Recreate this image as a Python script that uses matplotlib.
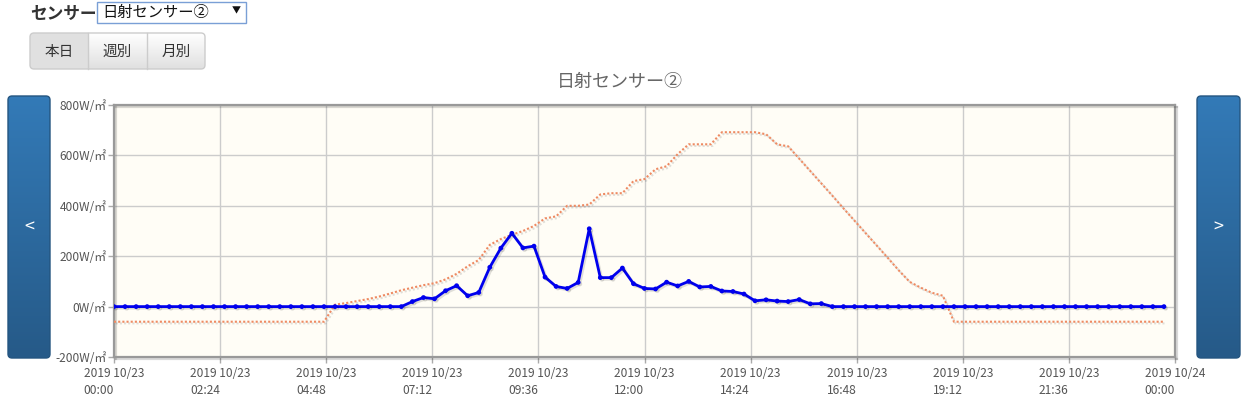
# 日射センサー② daily chart (jqPlot style page), 15 minute samples

import matplotlib
matplotlib.use('Agg')
import matplotlib.pyplot as plt
import matplotlib.patheffects as pe
from matplotlib.patches import FancyBboxPatch, Rectangle
from matplotlib.colors import LinearSegmentedColormap
import numpy as np
import pandas as pd

plt.rcParams['font.family'] = ['Noto Sans CJK JP', 'DejaVu Sans']

# Data
times = pd.date_range('2019-10-23 00:00', periods=96, freq='15min')

# measured irradiance (blue), W/m2
measured = ([0] * 27 +
            [20, 36, 31, 63, 83, 43, 56, 156, 232, 291, 233, 240, 117, 80, 72, 96,
             309, 115, 115, 153, 91, 72, 70, 97, 82, 100, 78, 80, 62, 60, 50, 23,
             27, 22, 20, 28, 11, 12] +
            [0] * 31)

# reference curve (orange dotted), W/m2
reference = ([-60] * 20 +
             [8, 14, 22, 30, 40, 52, 65, 75, 85, 93, 108, 130, 160, 185, 245, 268,
              285, 300, 320, 350, 358, 400, 400, 405, 445, 450, 450, 498, 506, 545,
              557, 605, 644, 644, 644, 692, 692, 692, 692, 684, 644, 636, 587, 538,
              489, 440, 390, 341, 292, 243, 194, 144, 98, 75, 55, 43] +
             [-60] * 20)

x_ticks = pd.date_range('2019-10-23 00:00', periods=11, freq='144min')
y_ticks = [-200, 0, 200, 400, 600, 800]

title = '日射センサー②'
buttons = ['本日', '週別', '月別']

W, H = 1248, 399
fig = plt.figure(figsize=(W / 100, H / 100), dpi=100)
fig.patch.set_facecolor('white')

# Overlay axes in pixel coordinates for the page widgets
ui = fig.add_axes([0, 0, 1, 1], zorder=0)
ui.set_xlim(0, W)
ui.set_ylim(H, 0)
ui.axis('off')


def gradient_box(x, y, w, h, c_top, c_bot, radius, edge=None, z=1):
    patch = FancyBboxPatch((x, y), w, h,
                           boxstyle=f'round,pad=0,rounding_size={radius}',
                           facecolor='none', edgecolor=edge if edge else 'none',
                           linewidth=1, zorder=z + 1)
    ui.add_patch(patch)
    grad = np.linspace(0, 1, 64).reshape(-1, 1)
    cmap = LinearSegmentedColormap.from_list('g', [c_top, c_bot])
    im = ui.imshow(grad, extent=(x, x + w, y + h, y), cmap=cmap, aspect='auto',
                   zorder=z, interpolation='bilinear')
    im.set_clip_path(patch)
    return patch


# Sensor selector
ui.text(30, 14, 'センサー', fontsize=12, fontweight='bold', color='#333333',
        va='center', ha='left')
ui.add_patch(Rectangle((97, 2), 149, 21, facecolor='white', edgecolor='#7a9fd6',
                       linewidth=1, zorder=2))
ui.text(102, 13, title, fontsize=11, color='#111111', va='center', ha='left', zorder=3)
ui.text(236, 11, '▼', fontsize=6.5, color='#111111', va='center', ha='center', zorder=3)

# Button group
outer = gradient_box(30, 33, 175, 36, '#ffffff', '#e0e0e0', 4, edge='#cccccc', z=2)
pressed = Rectangle((30, 33), 58, 36, facecolor='#e0e0e0', edgecolor='none', zorder=2.5)
ui.add_patch(pressed)
pressed.set_clip_path(outer)
for xd in [88, 147]:
    ui.plot([xd, xd], [33, 69], color='#cccccc', lw=1, zorder=4)
for label, cx in zip(buttons, [59, 117.5, 176]):
    ui.text(cx, 52, label, fontsize=10.5, color='#333333', va='center', ha='center', zorder=5)

# Prev / next buttons
gradient_box(8, 96, 42, 262, '#337ab7', '#265a88', 4, edge='#245580', z=2)
gradient_box(1197, 96, 43, 262, '#337ab7', '#265a88', 4, edge='#245580', z=2)
ui.text(29, 228, '<', fontsize=13, color='white', va='center', ha='center', zorder=5)
ui.text(1218, 228, '>', fontsize=13, color='white', va='center', ha='center', zorder=5)

# Chart title
fig.text(620 / W, 1 - 82 / H, title, fontsize=13, color='#666666', ha='center', va='center')

# Main chart
left, right, top, bottom = 114, 1175, 105, 357
ax = fig.add_axes([left / W, 1 - bottom / H, (right - left) / W, (bottom - top) / H], zorder=1)
ax.set_facecolor('#fffdf6')

shadow = [pe.SimpleLineShadow(offset=(1.2, -1.2), shadow_color='#000000', alpha=0.12),
          pe.Normal()]

ax.plot(times, reference, color='#ee8a62', lw=1.5, linestyle=(0, (1, 1)),
        zorder=3, path_effects=shadow)
ax.plot(times, measured, color='#0000ee', lw=2.0, marker='o', markersize=2.4,
        zorder=4, path_effects=shadow)

ax.set_xlim(x_ticks[0], x_ticks[-1])
ax.set_ylim(-200, 800)
ax.set_xticks(x_ticks)
ax.set_xticklabels([t.strftime('%Y %m/%d\n%H:%M') for t in x_ticks],
                   multialignment='left', linespacing=1.35)
ax.set_yticks(y_ticks)
ax.set_yticklabels([f'{v}W/㎡' for v in y_ticks])

ax.grid(True, color='#cccccc', lw=1)
ax.set_axisbelow(True)
ax.tick_params(axis='both', colors='#aaaaaa', labelcolor='#555555', labelsize=8.6,
               length=4.5, width=1)
ax.tick_params(axis='x', pad=3)
ax.tick_params(axis='y', pad=1)

for sp in ax.spines.values():
    sp.set_color('#999999')
    sp.set_linewidth(1.6)
    sp.set_path_effects([pe.SimpleLineShadow(offset=(1.5, -1.5), alpha=0.15), pe.Normal()])

fig.savefig('out.png', dpi=100)
